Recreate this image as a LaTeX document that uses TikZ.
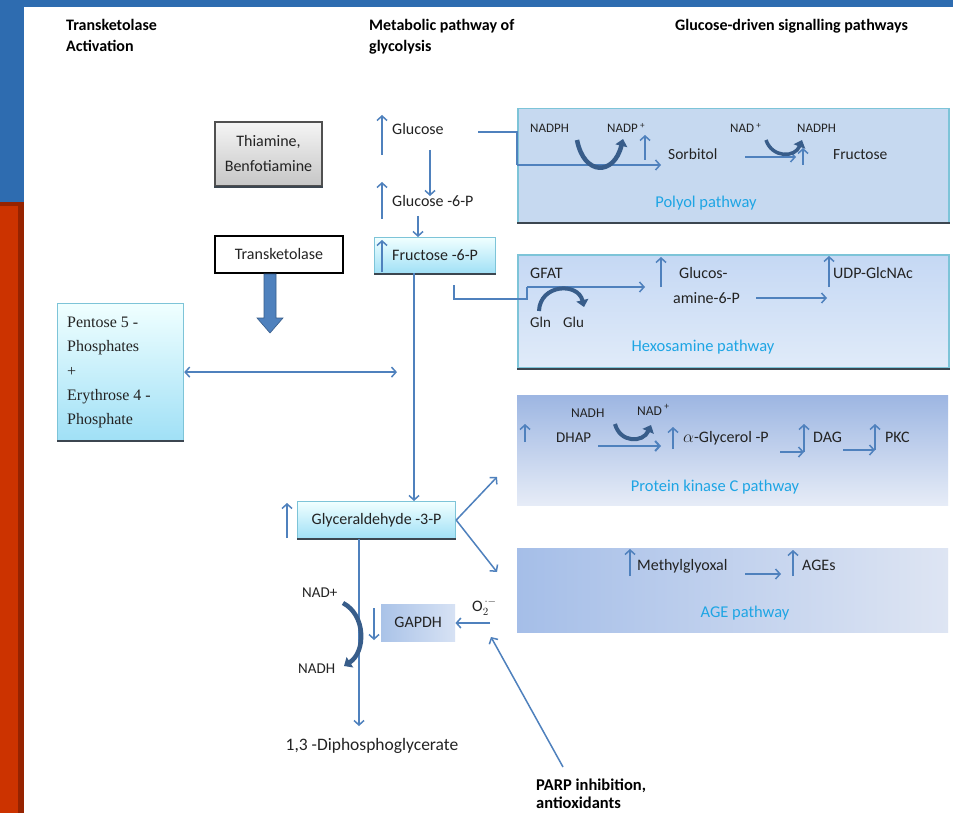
\documentclass[tikz,border=0pt]{standalone}
\usepackage{fontspec}
\setmainfont{Carlito}
\newfontfamily\serifpent{Liberation Serif}
\usetikzlibrary{arrows.meta}
\definecolor{barblue}{RGB}{46,108,176}
\definecolor{barred}{RGB}{204,51,0}
\definecolor{darkred}{RGB}{150,35,0}
\definecolor{arr}{RGB}{79,129,189}
\definecolor{thickarr}{RGB}{56,93,138}
\definecolor{pathlbl}{RGB}{30,165,228}
\definecolor{txt}{RGB}{35,35,35}
\definecolor{cyanedge}{RGB}{125,196,216}
\definecolor{shadowline}{RGB}{60,70,80}
\tikzset{
  x=1pt, y=-1pt,
  lbl/.style={text=txt, font=\fontsize{16}{18}\selectfont, inner sep=0pt},
  midlbl/.style={text=txt, font=\fontsize{15}{17}\selectfont, inner sep=0pt},
  cof/.style={text=txt, font=\fontsize{13}{15}\selectfont, inner sep=0pt},
  hdr/.style={text=black, font=\bfseries\fontsize{16}{18}\selectfont, inner sep=0pt, anchor=base west},
  plabel/.style={text=pathlbl, font=\fontsize{16.5}{18}\selectfont, inner sep=0pt},
  flow/.style={draw=arr, line width=1.5pt, -{Straight Barb[length=4.5pt,width=10pt]}},
  dflow/.style={draw=arr, line width=1.5pt, {Straight Barb[length=4.5pt,width=10pt]}-{Straight Barb[length=4.5pt,width=10pt]}},
  plainline/.style={draw=arr, line width=1.5pt},
  curv/.style={draw=thickarr, line width=4.5pt, -{Triangle[length=7pt,width=12pt]}},
  cyanbox/.style={draw=cyanedge, line width=1.2pt, top color=cyan!6!white, bottom color={rgb,255:red,160;green,224;blue,246}, anchor=north west, inner sep=0pt},
  pathbox/.style={anchor=north west, inner sep=0pt},
}
\begin{document}
\begin{tikzpicture}
\useasboundingbox (0,0) rectangle (953,813);
\fill[white] (0,0) rectangle (953,813);
% side and top bars
\fill[barblue] (0,0) rectangle (953,7);
\fill[barblue] (0,0) rectangle (24,202);
\fill[darkred] (0,202) rectangle (24,813);
\fill[barred] (0,206) rectangle (18,813);

% headers
\node[hdr] (h1a) at (66,31) {Transketolase};
\node[hdr] (h1b) at (66,52) {Activation};
\node[hdr] (h2a) at (369,31) {Metabolic pathway of};
\node[hdr] (h2b) at (369,52) {glycolysis};
\node[hdr] (h3) at (675,31) {Glucose-driven signalling pathways};

% left column
\node[draw={rgb,255:red,80;green,80;blue,80}, line width=1.5pt, top color=gray!8, bottom color=gray!45,
      minimum width=107pt, minimum height=64pt, align=center, text=txt,
      font=\fontsize{16}{25}\selectfont] (thia) at (268.5,154) {Thiamine,\\Benfotiamine};
\draw[line width=2pt, shadowline] (thia.south west) -- (thia.south east);
\node[draw=black, line width=2.5pt, fill=white, minimum width=128pt, minimum height=37pt,
      text=txt, font=\fontsize{16}{18}\selectfont] (tk) at (279,254.5) {Transketolase};
\fill[arr, draw=thickarr, line width=0.6pt] (264,274) -- (276,274) -- (276,318) -- (283,318) -- (270,333) -- (257,318) -- (264,318) -- cycle;
\coordinate (tkarrow) at (270,333);

\node[cyanbox, minimum width=126pt, minimum height=137pt] (pent) at (57,303) {};
\draw[line width=1.5pt, shadowline] (pent.south west) -- (pent.south east);
\node[anchor=north west, inner sep=0pt, align=left, text=txt,
      font=\serifpent\fontsize{16}{24.3}\selectfont] (penttext) at (67,317)
      {Pentose 5 -\\Phosphates\\+\\Erythrose 4 -\\Phosphate};

% glycolysis column
\node[lbl, anchor=base west] (glc) at (392,135) {Glucose};
\node[lbl, anchor=base west] (g6p) at (392,207) {Glucose -6-P};
\coordinate (glcup1) at (382,155); \coordinate (glcup2) at (382,115);
\draw[flow] (glcup1) -- (glcup2);
\coordinate (g6pup1) at (382,219); \coordinate (g6pup2) at (382,182);
\draw[flow] (g6pup1) -- (g6pup2);
\coordinate (glcdown1) at (430,150); \coordinate (glcdown2) at (430,196);
\draw[flow] (glcdown1) -- (glcdown2);

\node[cyanbox, minimum width=121pt, minimum height=36pt] (f6pbox) at (374,237) {};
\draw[line width=1.5pt, shadowline] (f6pbox.south west) -- (f6pbox.south east);
\node[lbl, anchor=base west] (f6p) at (392,261) {Fructose -6-P};
\coordinate (g6pdown) at (418,216);
\draw[flow] (g6pdown) -- (f6pbox.north -| g6pdown);
\coordinate (f6pup) at (382,272);
\draw[flow] (f6pup) -- (382,240);

\node[cyanbox, minimum width=158pt, minimum height=37pt] (ga3pbox) at (297,501) {};
\draw[line width=1.5pt, shadowline] (ga3pbox.south west) -- (ga3pbox.south east);
\node[lbl] (ga3p) at (ga3pbox.center) {Glyceraldehyde -3-P};
\coordinate (f6pout) at (414,273);
\draw[flow] (f6pout) -- (ga3pbox.north -| f6pout);
\coordinate (dblend) at (397,371);
\draw[dflow] (pent.east) -- (dblend |- pent.east);
\coordinate (ga3pup) at (287,538);
\draw[flow] (ga3pup) -- (287,503);

\coordinate (ga3pdown) at (359,539);
\node[lbl, font=\fontsize{17.5}{19}\selectfont] (dpg) at (372,746) {1,3 -Diphosphoglycerate};
\draw[flow] (ga3pdown) -- (359,726);

\node[midlbl, anchor=base west] (nadp1) at (302,597) {NAD+};
\node[midlbl, anchor=base west] (nadh1) at (298,673) {NADH};
\draw[curv] (343,603) .. controls (366,615) and (366,652) .. (344,666);

\node[pathbox, minimum width=74pt, minimum height=37pt,
      left color={rgb,255:red,170;green,195;blue,232}, right color={rgb,255:red,215;green,226;blue,244}] (gapdhbox) at (381,604) {};
\node[lbl] (gapdh) at (gapdhbox.center) {GAPDH};
\coordinate (gapdhdown) at (374,608);
\draw[flow] (gapdhdown) -- (374,640);
\node[lbl, anchor=base west] (o2) at (472,611) {O$_2^{\,\cdot-}$};
\coordinate (o2out) at (490,623);
\draw[flow] (o2out) -- (gapdhbox.east |- o2out);

\node[hdr, font=\bfseries\fontsize{16.5}{18}\selectfont] (parp1) at (536,790) {PARP inhibition,};
\node[hdr, font=\bfseries\fontsize{16.5}{18}\selectfont] (parp2) at (536,808) {antioxidants};
\coordinate (parpstart) at (563,767);
\coordinate (parpend) at (491,637);
\draw[flow] (parpstart) -- (parpend);

% Polyol pathway
\node[pathbox, fill={rgb,255:red,198;green,217;blue,240}, draw=cyanedge, line width=1.5pt,
      minimum width=431pt, minimum height=114pt] (polyol) at (517,108) {};
\draw[line width=2pt, shadowline] (polyol.south west) -- (polyol.south east);
\coordinate (glcright) at (478,132);
\draw[plainline] (glcright) -- (polyol.west |- glcright) -- (517,165);
\node[lbl, font=\fontsize{15.5}{17}\selectfont, anchor=base west] (sorb) at (668,160) {Sorbitol};
\draw[flow] (517,165) -- (661,165);
\node[cof, anchor=base west] (nadph1) at (530,133) {NADPH};
\node[cof, anchor=base west] (nadp) at (607,133) {NADP\,\textsuperscript{+}};
\draw[curv] (577,140) .. controls (584,176) and (614,176) .. (623,139);
\draw[flow] (645,160) -- (645,135);
\node[cof, anchor=base west] (nad1) at (730,133) {NAD\,\textsuperscript{+}};
\node[cof, anchor=base west] (nadph2) at (797,133) {NADPH};
\draw[flow] (745,157) -- (796,157);
\draw[curv, line width=3.5pt] (766,140) .. controls (772,158) and (795,158) .. (802,140);
\draw[flow] (803,165) -- (803,148);
\node[lbl, font=\fontsize{15.5}{17}\selectfont, anchor=base west] (fruc) at (833,160) {Fructose};
\node[plabel] (polyollbl) at (706,203) {Polyol pathway};

% Hexosamine pathway
\node[pathbox, top color={rgb,255:red,197;green,216;blue,244}, bottom color={rgb,255:red,224;green,235;blue,249},
      draw=cyanedge, line width=1.5pt, minimum width=431pt, minimum height=113pt] (hexo) at (517,254) {};
\draw[line width=2pt, shadowline] (hexo.south west) -- (hexo.south east);
\coordinate (f6pright) at (454,285);
\draw[plainline] (f6pright) -- (454,299) -- (527,299) -- (527,287);
\node[lbl, anchor=base west] (gfat) at (530,278) {GFAT};
\draw[flow] (527,287) -- (645,287);
\draw[curv, line width=4pt] (539,311) .. controls (540,284) and (578,282) .. (584,307);
\node[midlbl, anchor=base west] (gln) at (530,327) {Gln};
\node[midlbl, anchor=base west] (glu) at (563,327) {Glu};
\draw[flow] (661,287) -- (661,257);
\node[lbl, anchor=base west] (glcn) at (679,278) {Glucos-};
\node[lbl, anchor=base west] (glcn2) at (673,303) {amine-6-P};
\draw[flow] (756,298) -- (827,298);
\draw[flow] (829,287) -- (829,256);
\node[lbl, anchor=base west] (udp) at (833,278) {UDP-GlcNAc};
\node[plabel] (hexolbl) at (703,347) {Hexosamine pathway};

% Protein kinase C pathway
\node[pathbox, top color={rgb,255:red,157;green,182;blue,226}, bottom color={rgb,255:red,230;green,236;blue,247},
      minimum width=431pt, minimum height=110pt] (pkcbox) at (517,395) {};
\draw[flow] (ga3pbox.east) -- (497,477);
\draw[flow] (ga3pbox.east) -- (497,572);
\draw[flow] (525,442) -- (525,424);
\node[cof, font=\fontsize{13.5}{15}\selectfont, anchor=base west] (nadh2) at (571,417) {NADH};
\node[cof, font=\fontsize{13.5}{15}\selectfont, anchor=base west] (nad2) at (637,415) {NAD\,\textsuperscript{+}};
\node[midlbl, anchor=base west] (dhap) at (556,442) {DHAP};
\draw[curv, line width=4pt] (615,424) .. controls (620,443) and (643,443) .. (651,425);
\draw[flow, line width=2pt] (598,446) -- (661,446);
\draw[flow] (673,449) -- (673,427);
\node[lbl, anchor=base west] (agp) at (683,442) {$\alpha$-Glycerol -P};
\draw[flow] (780,452) -- (804,452);
\draw[flow] (804,452) -- (804,424);
\node[lbl, anchor=base west] (dag) at (813,442) {DAG};
\draw[flow] (843,450) -- (875,450);
\draw[flow] (875,450) -- (875,424);
\node[lbl, anchor=base west] (pkc) at (885,442) {PKC};
\node[plabel] (pkclbl) at (715,487) {Protein kinase C pathway};

% AGE pathway
\node[pathbox, left color={rgb,255:red,165;green,190;blue,232}, right color={rgb,255:red,222;green,229;blue,243},
      minimum width=431pt, minimum height=84pt] (agebox) at (517,548) {};
\draw[flow] (630,576) -- (630,549);
\node[lbl, anchor=base west] (mgo) at (637,570) {Methylglyoxal};
\draw[flow] (745,574) -- (781,574);
\draw[flow] (793,576) -- (793,550);
\node[lbl, anchor=base west] (ages) at (802,570) {AGEs};
\node[plabel] (agelbl) at (745,613) {AGE pathway};
\end{tikzpicture}
\end{document}
